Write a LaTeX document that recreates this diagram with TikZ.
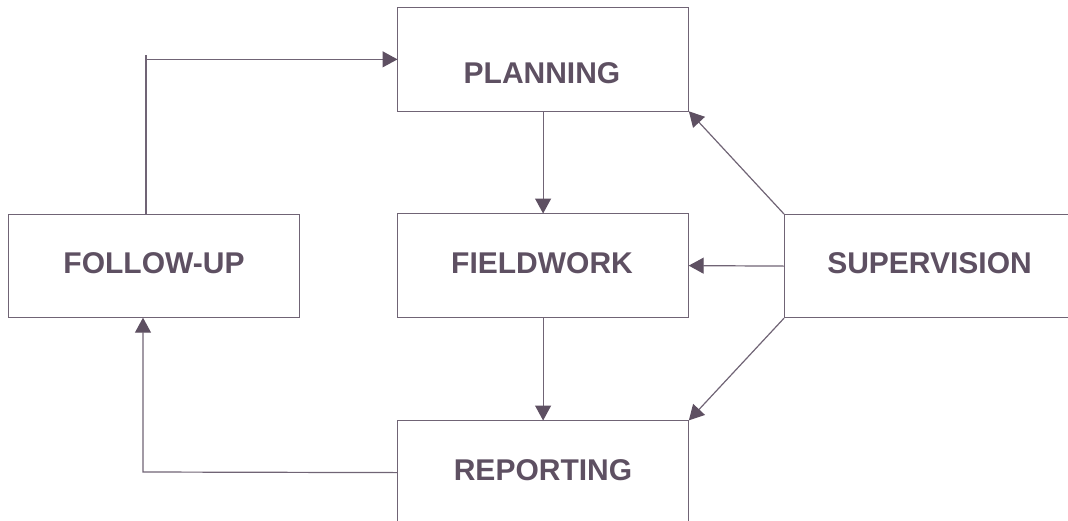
\documentclass[tikz,border=0pt]{standalone}
\usepackage{fontspec}
\setmainfont{Liberation Sans}
\usetikzlibrary{arrows.meta,calc}
\definecolor{txt}{RGB}{94,80,98}
\definecolor{ln}{RGB}{112,100,117}
\tikzset{
  box/.style={draw=ln,line width=1.2pt,rectangle,inner sep=0pt,anchor=north west},
  lbl/.style={text=txt,font=\bfseries\fontsize{30}{31}\selectfont,inner sep=0pt,anchor=base},
  conn/.style={draw=ln,line width=1.2pt},
  arr/.style={conn,-{Triangle[length=15pt,width=16pt,color=txt]},shorten >=-0.5pt}
}
\begin{document}
\begin{tikzpicture}[x=1pt,y=-1pt]
\useasboundingbox (0,0) rectangle (1068,520);
\clip (0,0) rectangle (1068,520);
\node[box,minimum width=291pt,minimum height=103.5pt] (plan) at (397,7) {};
\node[box,minimum width=291pt,minimum height=104pt] (field) at (397,213) {};
\node[box,minimum width=291pt,minimum height=104pt] (report) at (397,420) {};
\node[box,minimum width=291pt,minimum height=103pt] (follow) at (8,214) {};
\node[box,minimum width=292pt,minimum height=103pt] (super) at (784,214) {};
\node[lbl] (plant) at (542,83) {PLANNING};
\node[lbl] (fieldt) at (542,273) {FIELDWORK};
\node[lbl] (reportt) at (543,480) {REPORTING};
\node[lbl] (followt) at (154,273) {FOLLOW-UP};
\node[lbl] (supert) at (929.5,273) {SUPERVISION};
\coordinate (fu) at (146,55);
\coordinate (rb) at (143,472);
\draw[conn] (follow.north -| fu) -- (fu);
\draw[arr] (plan.west -| fu) -- (plan.west);
\draw[arr] (plan.south) -- (field.north);
\draw[arr] (field.south) -- (report.north);
\draw[arr] (report.west) -- (rb) -- (follow.south -| rb);
\draw[arr] (super.north west) -- (plan.south east);
\draw[arr] (super.west) -- (field.east);
\draw[arr] (super.south west) -- (report.north east);
\end{tikzpicture}
\end{document}
